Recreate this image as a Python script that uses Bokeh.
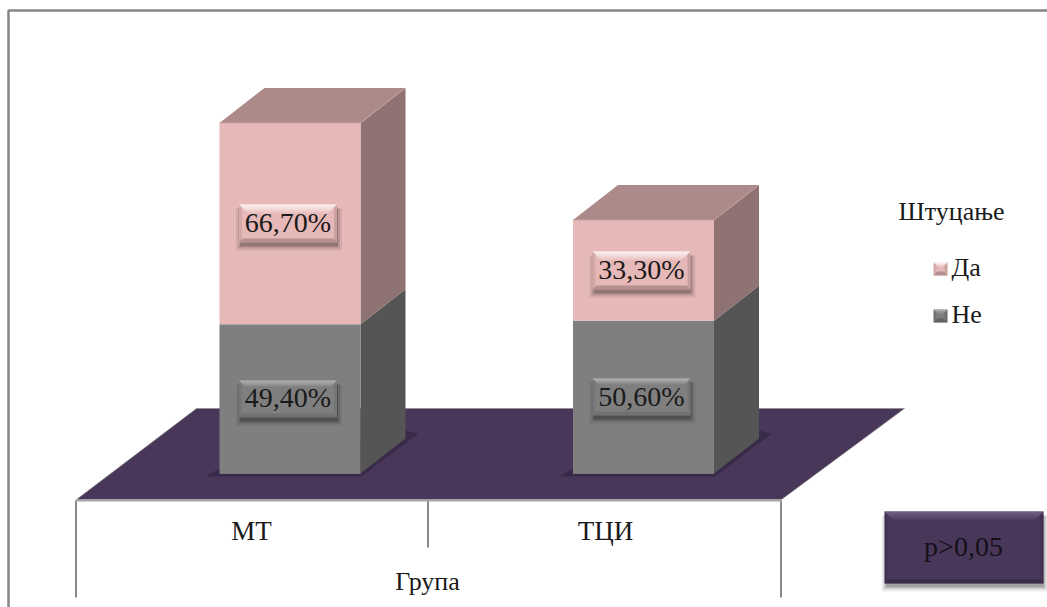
from bokeh.plotting import figure
from bokeh.models import Range1d
from bokeh.core.properties import value
from bokeh.embed import file_html
from bokeh.resources import INLINE

# ---- data
categories = ["МТ", "ТЦИ"]
series_names = ["Не", "Да"]
ne_values = [49.4, 50.6]
da_values = [66.7, 33.3]
legend_title = "Штуцање"
axis_title = "Група"
note_text = "p>0,05"

# ---- layout constants (page pixels)
W, H = 1047, 607
PX_PER_CAT, CAT0_PX = 353.5, 289.5
PX_PER_UNIT, BASE_PX = 3.02, 473.0
HALF_BAR, DEPTH_X, DEPTH_Y = 70.5, 45, 35
FONT = value("Liberation Serif")

def X(px):
    return (px - CAT0_PX) / PX_PER_CAT

def Y(py):
    return (BASE_PX - py) / PX_PER_UNIT

p = figure(width=W, height=H, output_backend="svg", toolbar_location=None,
           x_range=Range1d(X(0), X(W)), y_range=Range1d(Y(H), Y(0)),
           min_border=0, outline_line_color=None, background_fill_color="white")
p.axis.visible = False
p.grid.visible = False


def poly(pts, color, alpha=1.0):
    p.patch([X(a) for a, _ in pts], [Y(b) for _, b in pts], fill_color=color,
            fill_alpha=alpha, line_color=None)


def line(pts, color="#8a8a8a", width=2, alpha=1.0):
    p.line([X(a) for a, _ in pts], [Y(b) for _, b in pts], line_color=color,
           line_width=width, line_alpha=alpha)


def label(xc, yc, txt, size="26px", color="#1a1a1a", align="center"):
    p.text([X(xc)], [Y(yc)], text=[txt], text_font=FONT, text_font_size=size,
           text_color=color, text_align=align, text_baseline="middle")


def bevel(x0, y0, x1, y1, base, light, dark, b=7, shadow=True, dark_alpha=0.55):
    if shadow:
        for grow, a in ((5, 0.07), (3, 0.12), (1, 0.22)):
            poly([(x0 - grow + 2, y0 + 4), (x1 + grow, y0 + 4), (x1 + grow, y1 + 3 + grow),
                  (x0 - grow + 2, y1 + 3 + grow)], "#000000", a)
    poly([(x0, y0), (x1, y0), (x1, y1), (x0, y1)], base)
    for k in range(b):
        a = 1 - k / b
        poly([(x0 + k, y0 + k), (x1 - k, y0 + k), (x1 - k - 1, y0 + k + 1), (x0 + k + 1, y0 + k + 1)], light, a)
    poly([(x0, y1), (x1, y1), (x1 - 4, y1 - 4), (x0 + 4, y1 - 4)], dark, dark_alpha)
    poly([(x0, y0), (x0 + 3, y0 + 3), (x0 + 3, y1 - 3), (x0, y1)], dark, 0.2)
    poly([(x1, y0), (x1 - 3, y0 + 3), (x1 - 3, y1 - 3), (x1, y1)], dark, 0.3)


# frame of the picture
line([(8, H), (8, 10), (W, 10)], "#868686", 2.5)

# axis box
line([(75.5, 500), (75.5, 597)])
line([(780.5, 500), (780.5, 597)])
line([(427.5, 500), (427.5, 547)])

# floor
floor = [(76, 499), (781, 499), (904, 408), (196, 408)]
poly(floor, "#49375A")
line([floor[0], floor[3], floor[2], floor[1]], "#8a8a8a", 1, 0.6)
line([(75, 500), (781, 500)], "#a6a6a6", 2)

# bars
for i, cat in enumerate(categories):
    xc = CAT0_PX + PX_PER_CAT * i
    l, r = xc - HALF_BAR, xc + HALF_BAR
    top0 = BASE_PX
    top1 = BASE_PX - ne_values[i] * PX_PER_UNIT
    top2 = top1 - da_values[i] * PX_PER_UNIT

    poly([(l - 14, 476), (r + 1, 476), (r + 58, 433), (r + 45, 430), (l, 468)], "#3A2A49")

    # grey segment
    poly([(r, top0), (r + DEPTH_X, top0 - DEPTH_Y), (r + DEPTH_X, top1 - DEPTH_Y), (r, top1)], "#555555")
    poly([(l, top0), (r, top0), (r, top1), (l, top1)], "#7F7F7F")
    # pink segment
    poly([(r, top1), (r + DEPTH_X, top1 - DEPTH_Y), (r + DEPTH_X, top2 - DEPTH_Y), (r, top2)], "#8F7372")
    poly([(l, top1), (r, top1), (r, top2), (l, top2)], "#E6B8B7")
    poly([(l, top2), (r, top2), (r + DEPTH_X, top2 - DEPTH_Y), (l + DEPTH_X, top2 - DEPTH_Y)], "#AB8A89")
    line([(l, top2), (r, top2), (r + DEPTH_X, top2 - DEPTH_Y)], "#CBA3A2", 1, 0.8)
    line([(l, top0), (r, top0)], "#8c8c8c", 1, 0.6)

    # value labels
    txt_ne = f"{ne_values[i]:.2f}".replace(".", ",") + "%"
    txt_da = f"{da_values[i]:.2f}".replace(".", ",") + "%"
    ym_ne = (top0 + top1) / 2
    ym_da = (top1 + top2) / 2
    xl = xc - 2
    bevel(xl - 49, ym_ne - 18.5, xl + 49, ym_ne + 18.5, "#7F7F7F", "#bcbcbc", "#5f5f5f", b=6, dark_alpha=0.4)
    label(xl, ym_ne - 1, txt_ne, size="28px")
    bevel(xl - 49, ym_da - 19, xl + 49, ym_da + 19, "#E6B8B7", "#ffffff", "#8d6f6e", b=9)
    label(xl, ym_da - 1, txt_da, size="28px")

# category and axis labels
label(251, 530, categories[0], size="27px")
label(605, 530, categories[1], size="27px")
label(427, 581, axis_title)

# legend
label(951, 211, legend_title)
bevel(933, 262, 947, 275, "#E6B8B7", "#ffffff", "#8d6f6e", b=4, shadow=False)
label(951, 267, series_names[1], align="left")
bevel(933, 309, 947, 322, "#7F7F7F", "#b4b4b4", "#4a4a4a", b=4, shadow=False)
label(951, 314, series_names[0], align="left")

# note box
bevel(884, 511, 1043, 583, "#49375A", "#7c6a8d", "#2c2038", b=9)
label(963, 546, note_text, size="28px", color="#141018")

open("out.html", "w").write(file_html(p, INLINE))
